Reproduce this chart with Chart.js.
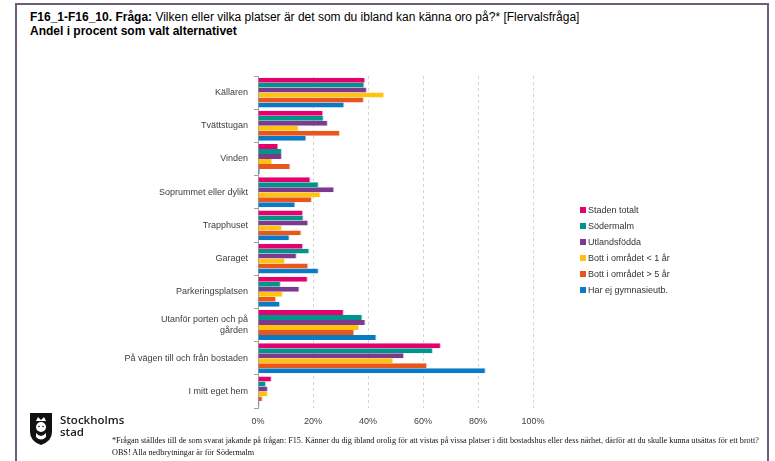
<!DOCTYPE html>
<html>
<head>
<meta charset="utf-8">
<script src="https://cdn.jsdelivr.net/npm/chart.js@4.4.0/dist/chart.umd.min.js"></script>
<style>
  html, body { margin:0; padding:0; background:#fff; }
  body { width:775px; height:461px; position:relative; overflow:hidden; font-family:"Liberation Sans", Arial, sans-serif; }
  #frame { position:absolute; left:15px; top:3px; width:754px; height:500px; border:2px solid #6e5d7d; border-bottom:none; box-sizing:border-box; }
  #title { position:absolute; left:30px; top:10px; font-size:12px; line-height:14px; color:#000; white-space:nowrap; }
  #chartWrap { position:absolute; left:0; top:0; width:775px; height:461px; }
  #legend { position:absolute; left:580px; top:204px; font-size:9px; color:#333; }
  #legend div { height:16px; line-height:12px; white-space:nowrap; }
  #legend span.box { display:inline-block; width:6px; height:6px; margin-right:2px; vertical-align:0px; }
  #logo { position:absolute; left:29px; top:412px; }
  #logoText { position:absolute; left:60px; top:414px; font-family:"Open Sans", "DejaVu Sans", sans-serif; font-weight:600; font-size:11.5px; line-height:12px; color:#1a1a1a; }
  #foot { position:absolute; left:112px; top:435px; font-family:"Liberation Serif", "Times New Roman", serif; font-size:8.2px; line-height:11.5px; color:#111; white-space:nowrap; }
</style>
</head>
<body>
<div id="frame"></div>
<div id="title"><b>F16_1-F16_10. Fråga:</b> Vilken eller vilka platser är det som du ibland kan känna oro på?* [Flervalsfråga]<br><b>Andel i procent som valt alternativet</b></div>
<div id="chartWrap"><canvas id="c" width="775" height="461"></canvas></div>
<div id="legend"></div>
<svg id="logo" width="24" height="34" viewBox="0 0 24 34">
  <path d="M1 1 H23 V20 Q23 29 12 33 Q1 29 1 20 Z" fill="#111"/>
  <circle cx="12" cy="15" r="5" fill="#fff"/>
  <path d="M7 9 L9 5 L12 8 L15 5 L17 9 Z" fill="#fff"/>
  <path d="M7 21 Q12 27 17 21 L17 25 Q12 30 7 25 Z" fill="#fff"/>
  <circle cx="10" cy="14.5" r="0.8" fill="#111"/>
  <circle cx="14" cy="14.5" r="0.8" fill="#111"/>
</svg>
<div id="logoText">Stockholms<br>stad</div>
<div id="foot">*Frågan ställdes till de som svarat jakande på frågan: F15. Känner du dig ibland orolig för att vistas på vissa platser i ditt bostadshus eller dess närhet, därför att du skulle kunna utsättas för ett brott?<br>OBS! Alla nedbrytningar är för Södermalm</div>
<script>
const categories = [
  "Källaren",
  "Tvättstugan",
  "Vinden",
  "Soprummet eller dylikt",
  "Trapphuset",
  "Garaget",
  "Parkeringsplatsen",
  ["Utanför porten och på", "gården"],
  "På vägen till och från bostaden",
  "I mitt eget hem"
];
const seriesNames = ["Staden totalt", "Södermalm", "Utlandsfödda", "Bott i området < 1 år", "Bott i området > 5 år", "Har ej gymnasieutb."];
const seriesColors = ["#e4006d", "#00958a", "#7b3a8d", "#ffc20e", "#e8561b", "#0a79c6"];
const stadenTotalt   = [39.0, 23.7, 7.4, 19.1, 16.4, 16.4, 18.1, 31.2, 66.5, 5.0];
const sodermalm      = [38.7, 23.9, 8.7, 22.1, 16.6, 18.7, 8.3, 38.0, 63.6, 2.9];
const utlandsfodda   = [39.6, 25.4, 8.7, 27.7, 18.3, 14.1, 15.1, 39.1, 53.1, 3.6];
const bottUnder1     = [45.9, 14.8, 5.2, 22.8, 8.7, 9.8, 9.0, 36.8, 49.2, 3.6];
const bottOver5      = [38.5, 29.8, 11.8, 19.6, 15.8, 18.3, 6.6, 35.0, 61.5, 1.7];
const ejGymnasieutb  = [31.4, 17.6, 0.8, 13.6, 11.5, 22.1, 8.0, 43.1, 82.8, 0.6];
const xTicks = [0, 20, 40, 60, 80, 100];

const seriesValues = [stadenTotalt, sodermalm, utlandsfodda, bottUnder1, bottOver5, ejGymnasieutb];

const datasets = seriesNames.map((name, i) => ({
  label: name,
  data: seriesValues[i],
  backgroundColor: seriesColors[i],
  borderColor: seriesColors[i] + '55',
  borderWidth: { top: 0, bottom: 0, left: 0, right: 1 },
  borderSkipped: false,
  categoryPercentage: 0.9,
  barPercentage: 1.0
}));

const chart = new Chart(document.getElementById('c'), {
  type: 'bar',
  data: { labels: categories, datasets },
  options: {
    indexAxis: 'y',
    responsive: false,
    animation: false,
    devicePixelRatio: 1,
    layout: { padding: { left: 98, right: 242, top: 76, bottom: 33 } },
    plugins: { legend: { display: false }, tooltip: { enabled: false } },
    scales: {
      x: {
        min: 0, max: 100,
        afterFit: s => { s.height = 20; },
        afterBuildTicks: s => { s.ticks = xTicks.map(v => ({ value: v })); },
        ticks: { callback: v => v + '%', color: '#404040', font: { family: 'Liberation Sans', size: 9 }, padding: 8, maxRotation: 0 },
        grid: { color: '#d6d6d6', drawTicks: false, tickLength: 0, lineWidth: 1 },
        border: { display: false, dash: [3, 3] }
      },
      y: {
        afterFit: s => { s.width = 160; },
        ticks: { color: '#404040', font: { family: 'Liberation Sans', size: 9 }, padding: 6, autoSkip: false },
        grid: { offset: true, drawOnChartArea: false, color: '#a0a0a0', tickLength: 4 },
        border: { color: '#a0a0a0', width: 1 }
      }
    }
  }
});

const lg = document.getElementById('legend');
seriesNames.forEach((n, i) => {
  const d = document.createElement('div');
  d.innerHTML = '<span class="box" style="background:' + seriesColors[i] + '"></span>' + n;
  lg.appendChild(d);
});
</script>
</body>
</html>
